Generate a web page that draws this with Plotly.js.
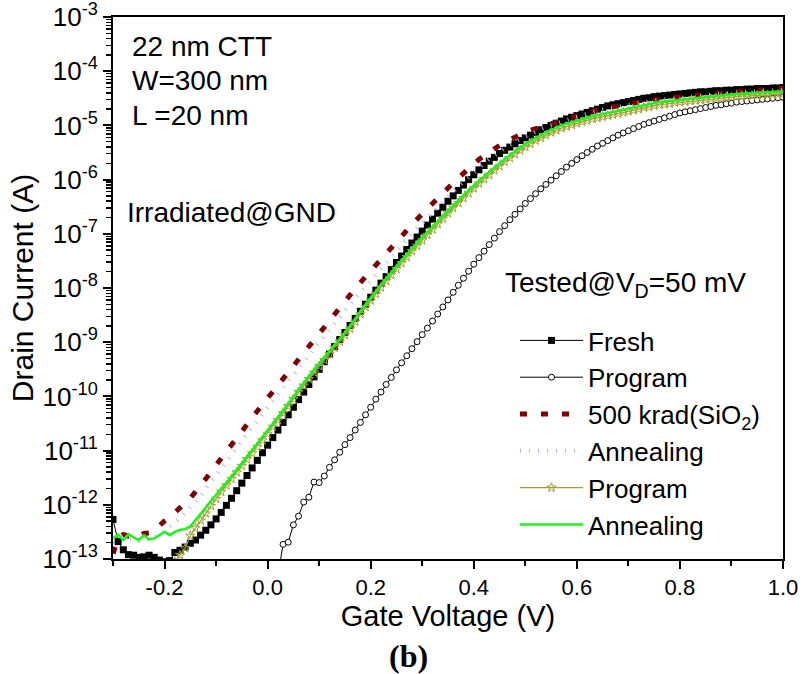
<!DOCTYPE html>
<html>
<head>
<meta charset="utf-8">
<script src="https://cdn.plot.ly/plotly-3.0.1.min.js"></script>
<style>html,body{margin:0;padding:0;background:#fff;}#chart{width:804px;height:674px;}</style>
</head>
<body>
<div id="chart"></div>
<script>
// Gate voltage grid (V)
const gateVoltage = [
-0.30,-0.29,-0.28,-0.27,-0.26,-0.25,-0.24,-0.23,-0.22,-0.21,
-0.20,-0.19,-0.18,-0.17,-0.16,-0.15,-0.14,-0.13,-0.12,-0.11,
-0.10,-0.09,-0.08,-0.07,-0.06,-0.05,-0.04,-0.03,-0.02,-0.01,
0.00,0.01,0.02,0.03,0.04,0.05,0.06,0.07,0.08,0.09,
0.10,0.11,0.12,0.13,0.14,0.15,0.16,0.17,0.18,0.19,
0.20,0.21,0.22,0.23,0.24,0.25,0.26,0.27,0.28,0.29,
0.30,0.31,0.32,0.33,0.34,0.35,0.36,0.37,0.38,0.39,
0.40,0.41,0.42,0.43,0.44,0.45,0.46,0.47,0.48,0.49,
0.50,0.51,0.52,0.53,0.54,0.55,0.56,0.57,0.58,0.59,
0.60,0.61,0.62,0.63,0.64,0.65,0.66,0.67,0.68,0.69,
0.70,0.71,0.72,0.73,0.74,0.75,0.76,0.77,0.78,0.79,
0.80,0.81,0.82,0.83,0.84,0.85,0.86,0.87,0.88,0.89,
0.90,0.91,0.92,0.93,0.94,0.95,0.96,0.97,0.98,0.99,
1.00];

// Drain current, given as log10(I / A)
const freshLogI = [
-12.27,-12.68,-12.83,-12.92,-12.93,-12.97,-12.96,-12.93,-12.97,-13.02,
-13.05,-13.03,-12.88,-12.84,-12.78,-12.71,-12.65,-12.56,-12.47,-12.37,
-12.26,-12.14,-12.01,-11.88,-11.74,-11.60,-11.46,-11.32,-11.18,-11.04,
-10.90,-10.76,-10.62,-10.48,-10.34,-10.20,-10.06,-9.92,-9.78,-9.64,
-9.50,-9.36,-9.22,-9.08,-8.95,-8.82,-8.69,-8.56,-8.43,-8.30,
-8.17,-8.04,-7.91,-7.79,-7.66,-7.53,-7.41,-7.29,-7.17,-7.06,
-6.95,-6.84,-6.73,-6.62,-6.51,-6.40,-6.30,-6.20,-6.10,-6.00,
-5.91,-5.82,-5.74,-5.66,-5.59,-5.52,-5.46,-5.40,-5.34,-5.28,
-5.23,-5.18,-5.13,-5.08,-5.04,-5.00,-4.96,-4.92,-4.88,-4.85,
-4.82,-4.79,-4.76,-4.73,-4.70,-4.67,-4.64,-4.62,-4.60,-4.58,
-4.56,-4.54,-4.52,-4.50,-4.49,-4.47,-4.46,-4.45,-4.44,-4.43,
-4.42,-4.41,-4.40,-4.39,-4.38,-4.38,-4.37,-4.36,-4.36,-4.35,
-4.35,-4.34,-4.34,-4.33,-4.33,-4.32,-4.32,-4.32,-4.31,-4.31,
-4.30];

const programLogI = [
null,null,null,null,null,null,null,null,null,null,
null,null,null,null,null,null,null,null,null,null,
null,null,null,null,null,null,null,null,null,null,
null,null,-13.30,-12.73,-12.69,-12.37,-12.21,-11.95,-11.86,-11.58,
-11.59,-11.47,-11.31,-11.17,-11.03,-10.89,-10.76,-10.62,-10.48,-10.34,
-10.20,-10.05,-9.92,-9.78,-9.65,-9.51,-9.38,-9.25,-9.12,-8.99,
-8.86,-8.74,-8.61,-8.48,-8.35,-8.22,-8.08,-7.95,-7.82,-7.69,
-7.56,-7.44,-7.32,-7.20,-7.08,-6.96,-6.85,-6.74,-6.64,-6.54,
-6.44,-6.35,-6.26,-6.17,-6.09,-6.01,-5.93,-5.85,-5.77,-5.70,
-5.63,-5.56,-5.50,-5.44,-5.38,-5.33,-5.28,-5.23,-5.18,-5.14,
-5.10,-5.06,-5.02,-4.98,-4.95,-4.92,-4.89,-4.86,-4.83,-4.80,
-4.77,-4.75,-4.73,-4.71,-4.69,-4.67,-4.65,-4.63,-4.62,-4.60,
-4.59,-4.57,-4.56,-4.55,-4.54,-4.53,-4.52,-4.51,-4.50,-4.49,
-4.48];

const krad500LogI = [
-12.90,-12.62,-12.55,-12.58,-12.55,-12.57,-12.53,-12.52,-12.47,-12.37,
-12.30,-12.23,-12.14,-12.06,-11.98,-11.88,-11.76,-11.65,-11.53,-11.40,
-11.27,-11.15,-11.02,-10.89,-10.77,-10.64,-10.52,-10.39,-10.27,-10.15,
-10.02,-9.90,-9.78,-9.66,-9.54,-9.42,-9.30,-9.18,-9.06,-8.94,
-8.82,-8.70,-8.58,-8.46,-8.35,-8.23,-8.12,-8.01,-7.90,-7.79,
-7.68,-7.57,-7.46,-7.35,-7.24,-7.13,-7.03,-6.93,-6.83,-6.73,
-6.63,-6.53,-6.43,-6.33,-6.24,-6.15,-6.06,-5.97,-5.88,-5.79,
-5.71,-5.63,-5.56,-5.49,-5.43,-5.37,-5.31,-5.26,-5.21,-5.17,
-5.13,-5.09,-5.06,-5.03,-5.00,-4.96,-4.93,-4.90,-4.87,-4.84,
-4.81,-4.78,-4.76,-4.73,-4.71,-4.69,-4.67,-4.65,-4.63,-4.61,
-4.60,-4.59,-4.57,-4.56,-4.54,-4.53,-4.52,-4.50,-4.49,-4.48,
-4.47,-4.46,-4.45,-4.44,-4.43,-4.42,-4.41,-4.40,-4.39,-4.39,
-4.38,-4.37,-4.36,-4.36,-4.35,-4.35,-4.34,-4.34,-4.33,-4.33,
-4.32];

const annealing1LogI = [
-12.70,-12.65,-12.62,-12.64,-12.62,-12.66,-12.62,-12.64,-12.60,-12.55,
-12.48,-12.41,-12.33,-12.24,-12.15,-12.06,-11.95,-11.83,-11.71,-11.58,
-11.45,-11.33,-11.20,-11.07,-10.95,-10.82,-10.70,-10.57,-10.45,-10.33,
-10.20,-10.08,-9.96,-9.84,-9.72,-9.60,-9.48,-9.36,-9.24,-9.12,
-9.00,-8.88,-8.76,-8.64,-8.53,-8.41,-8.30,-8.19,-8.08,-7.97,
-7.86,-7.75,-7.64,-7.53,-7.42,-7.31,-7.21,-7.10,-7.00,-6.90,
-6.80,-6.70,-6.60,-6.50,-6.40,-6.31,-6.22,-6.13,-6.04,-5.95,
-5.86,-5.78,-5.70,-5.62,-5.55,-5.48,-5.42,-5.36,-5.30,-5.25,
-5.20,-5.15,-5.11,-5.07,-5.03,-4.99,-4.96,-4.93,-4.90,-4.87,
-4.84,-4.81,-4.78,-4.76,-4.73,-4.71,-4.69,-4.67,-4.65,-4.63,
-4.62,-4.60,-4.59,-4.57,-4.56,-4.54,-4.53,-4.52,-4.51,-4.50,
-4.49,-4.48,-4.47,-4.46,-4.45,-4.44,-4.43,-4.42,-4.41,-4.41,
-4.40,-4.39,-4.38,-4.38,-4.37,-4.37,-4.36,-4.36,-4.35,-4.35,
-4.34];

const program2LogI = [
null,null,null,null,null,null,null,null,null,null,
-13.40,-13.30,-13.05,-12.93,-12.80,-12.57,-12.43,-12.29,-12.16,-12.02,
-11.89,-11.76,-11.64,-11.52,-11.40,-11.28,-11.16,-11.05,-10.93,-10.81,
-10.69,-10.56,-10.44,-10.31,-10.18,-10.05,-9.92,-9.80,-9.68,-9.56,
-9.44,-9.33,-9.22,-9.10,-8.99,-8.87,-8.75,-8.62,-8.48,-8.35,
-8.23,-8.11,-7.99,-7.87,-7.76,-7.65,-7.54,-7.43,-7.32,-7.22,
-7.12,-7.02,-6.92,-6.82,-6.72,-6.62,-6.52,-6.43,-6.34,-6.25,
-6.16,-6.07,-5.99,-5.91,-5.83,-5.75,-5.67,-5.60,-5.53,-5.46,
-5.40,-5.34,-5.28,-5.23,-5.18,-5.13,-5.09,-5.05,-5.02,-4.99,
-4.96,-4.93,-4.91,-4.88,-4.86,-4.84,-4.82,-4.80,-4.78,-4.76,
-4.74,-4.72,-4.70,-4.67,-4.66,-4.64,-4.62,-4.61,-4.60,-4.58,
-4.57,-4.56,-4.55,-4.54,-4.53,-4.52,-4.51,-4.50,-4.49,-4.48,
-4.48,-4.47,-4.46,-4.46,-4.45,-4.45,-4.44,-4.44,-4.43,-4.43,
-4.42];

const annealing2LogI = [
-12.62,-12.55,-12.65,-12.54,-12.60,-12.65,-12.56,-12.64,-12.62,-12.56,
-12.50,-12.56,-12.50,-12.46,-12.45,-12.40,-12.29,-12.17,-12.05,-11.93,
-11.81,-11.70,-11.60,-11.48,-11.35,-11.23,-11.11,-11.00,-10.88,-10.76,
-10.64,-10.51,-10.39,-10.26,-10.13,-10.00,-9.87,-9.75,-9.63,-9.51,
-9.39,-9.28,-9.17,-9.05,-8.94,-8.82,-8.70,-8.57,-8.43,-8.30,
-8.18,-8.06,-7.94,-7.82,-7.71,-7.60,-7.49,-7.38,-7.27,-7.17,
-7.07,-6.97,-6.87,-6.77,-6.67,-6.57,-6.47,-6.38,-6.29,-6.20,
-6.11,-6.02,-5.94,-5.86,-5.78,-5.70,-5.62,-5.55,-5.48,-5.41,
-5.35,-5.29,-5.23,-5.18,-5.13,-5.08,-5.04,-5.00,-4.97,-4.94,
-4.91,-4.88,-4.86,-4.83,-4.81,-4.79,-4.77,-4.75,-4.73,-4.71,
-4.69,-4.67,-4.65,-4.62,-4.61,-4.59,-4.57,-4.56,-4.55,-4.53,
-4.52,-4.51,-4.50,-4.49,-4.48,-4.47,-4.46,-4.45,-4.44,-4.43,
-4.43,-4.42,-4.41,-4.41,-4.40,-4.40,-4.39,-4.39,-4.38,-4.38,
-4.37];

const seriesNames = ['Fresh', 'Program', '500 krad(SiO<sub>2</sub>)', 'Annealing', 'Program', 'Annealing'];

const xTickVals = [-0.2, 0.0, 0.2, 0.4, 0.6, 0.8, 1.0];
const xTickText = ['-0.2', '0.0', '0.2', '0.4', '0.6', '0.8', '1.0'];
const yTickVals = [1e-13, 1e-12, 1e-11, 1e-10, 1e-9, 1e-8, 1e-7, 1e-6, 1e-5, 1e-4, 1e-3];
const yTickText = ['10<sup>-13</sup>', '10<sup>-12</sup>', '10<sup>-11</sup>', '10<sup>-10</sup>', '10<sup>-9</sup>',
  '10<sup>-8</sup>', '10<sup>-7</sup>', '10<sup>-6</sup>', '10<sup>-5</sup>', '10<sup>-4</sup>', '10<sup>-3</sup>'];

const toAmps = arr => arr.map(v => (v === null ? null : Math.pow(10, v)));

// minor tick positions on the log axis (2..9 x each decade)
const yMinor = [];
for (let e = -13; e < -3; e++) for (let m = 2; m <= 9; m++) yMinor.push(m * Math.pow(10, e));

const traces = [
  { x: gateVoltage, y: toAmps(freshLogI), name: seriesNames[0], mode: 'lines+markers',
    line: { color: '#000000', width: 1 }, marker: { symbol: 'square', size: 7, color: '#000000' } },
  { x: gateVoltage, y: toAmps(programLogI), name: seriesNames[1], mode: 'lines+markers',
    line: { color: '#000000', width: 1 }, marker: { symbol: 'circle', size: 6, color: '#ffffff', line: { color: '#000000', width: 1 } } },
  { x: gateVoltage, y: toAmps(krad500LogI), name: seriesNames[2], mode: 'lines',
    line: { color: '#800000', width: 5, dash: '7px,14px' } },
  { x: gateVoltage, y: toAmps(annealing1LogI), name: seriesNames[3], mode: 'lines',
    line: { color: '#b4b4f2', width: 4, dash: '1px,8px' } },
  { x: gateVoltage, y: toAmps(program2LogI), name: seriesNames[4], mode: 'lines+markers',
    line: { color: '#a0a030', width: 1.2 }, marker: { symbol: 'star-open', size: 7, color: '#a0a030', line: { color: '#a0a030', width: 1 } } },
  { x: gateVoltage, y: toAmps(annealing2LogI), name: seriesNames[5], mode: 'lines',
    line: { color: '#1ff01f', width: 2.5 } }
];

const px2x = p => (p - 113) / 670;
const px2y = p => 1 - (p - 17) / 542;
const annFont = { family: 'Liberation Sans, Arial, sans-serif', size: 28, color: '#000' };

const layout = {
  width: 804, height: 674,
  margin: { l: 113, r: 21, t: 17, b: 115 },
  paper_bgcolor: '#ffffff', plot_bgcolor: '#ffffff',
  font: { family: 'Liberation Sans, Arial, sans-serif', color: '#000000' },
  showlegend: true,
  legend: { x: px2x(515), y: px2y(317), xanchor: 'left', yanchor: 'top',
    font: { size: 26, color: '#000' }, bgcolor: 'rgba(0,0,0,0)', itemwidth: 63, tracegroupgap: 0 },
  xaxis: {
    range: [-0.3, 1.0], tickmode: 'array', tickvals: xTickVals, ticktext: xTickText,
    ticks: 'outside', ticklen: 8, tickwidth: 2, tickcolor: '#000',
    showline: true, linewidth: 2, linecolor: '#000', mirror: true,
    showgrid: false, zeroline: false, tickfont: { size: 22 },
    minor: { tickmode: 'linear', tick0: -0.3, dtick: 0.1, ticks: 'outside', ticklen: 5, tickwidth: 2, tickcolor: '#000', showgrid: false },
    title: { text: 'Gate Voltage (V)', font: { size: 29 }, standoff: 0 }, automargin: 'bottom'
  },
  yaxis: {
    type: 'log', range: [-13, -3], tickmode: 'array', tickvals: yTickVals, ticktext: yTickText,
    ticks: 'outside', ticklen: 8, tickwidth: 2, tickcolor: '#000',
    showline: true, linewidth: 2, linecolor: '#000', mirror: true,
    showgrid: false, zeroline: false, tickfont: { size: 26 }, ticklabeloverflow: 'allow',
    minor: { tickmode: 'array', tickvals: yMinor, ticks: 'outside', ticklen: 5, tickwidth: 1.5, tickcolor: '#000', showgrid: false },
    title: { text: 'Drain Current (A)', font: { size: 30 }, standoff: 0 }, automargin: 'left'
  },
  annotations: [
    { text: '22 nm CTT', x: px2x(130), y: px2y(46), xref: 'paper', yref: 'paper', xanchor: 'left', yanchor: 'middle', showarrow: false, font: annFont },
    { text: 'W=300 nm', x: px2x(130), y: px2y(81), xref: 'paper', yref: 'paper', xanchor: 'left', yanchor: 'middle', showarrow: false, font: annFont },
    { text: 'L =20 nm', x: px2x(130), y: px2y(115), xref: 'paper', yref: 'paper', xanchor: 'left', yanchor: 'middle', showarrow: false, font: annFont },
    { text: 'Irradiated@GND', x: px2x(125), y: px2y(212), xref: 'paper', yref: 'paper', xanchor: 'left', yanchor: 'middle', showarrow: false, font: annFont },
    { text: 'Tested@V<sub>D</sub>=50 mV', x: px2x(503), y: px2y(284), xref: 'paper', yref: 'paper', xanchor: 'left', yanchor: 'middle', showarrow: false, font: annFont },
    { text: '<b>(b)</b>', x: px2x(408), y: px2y(656), xref: 'paper', yref: 'paper', xanchor: 'center', yanchor: 'middle', showarrow: false,
      font: { family: 'Liberation Serif, Times New Roman, serif', size: 32, color: '#000' } }
  ]
};

Plotly.newPlot('chart', traces, layout, { displayModeBar: false, staticPlot: true });
</script>
</body>
</html>
